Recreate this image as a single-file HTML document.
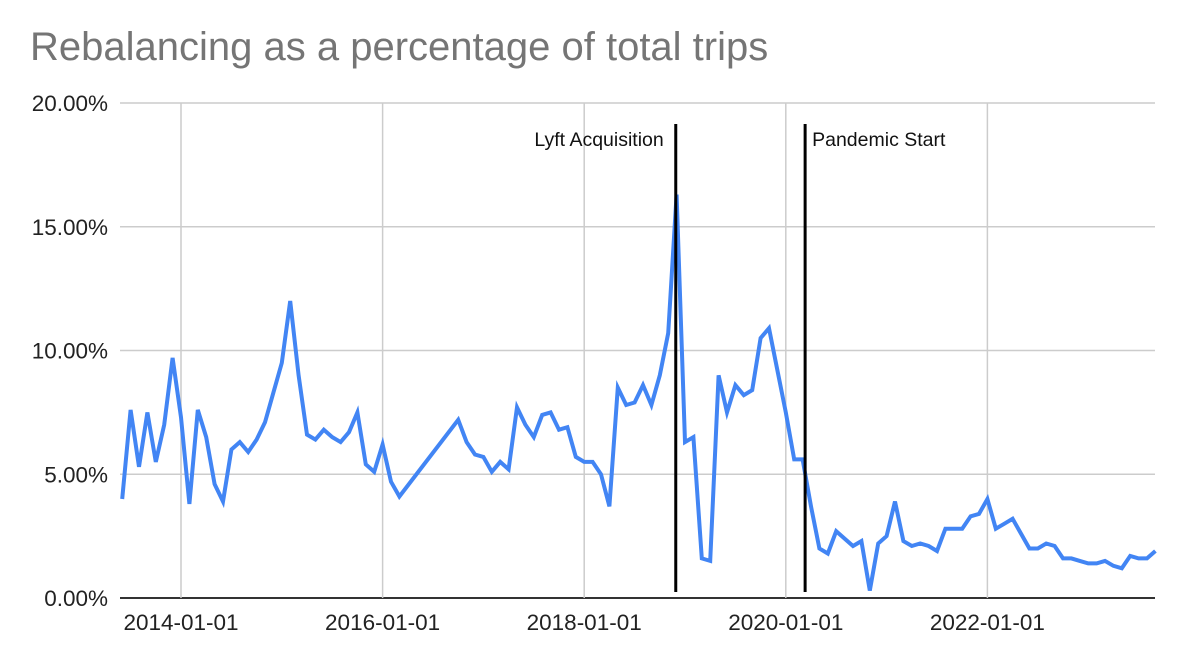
<!DOCTYPE html>
<html><head><meta charset="utf-8"><style>
html,body{margin:0;padding:0;background:#fff;}
svg{display:block;font-family:"Liberation Sans",Arial,sans-serif;}
</style></head><body>
<svg id="chart" width="1180" height="656" viewBox="0 0 1180 656">
<text x="30" y="60" font-size="40" fill="#757575">Rebalancing as a percentage of total trips</text>
<g id="grid"></g><g id="series"></g><g id="annot"></g><g id="labels"></g>
</svg>
<script>
const yTicks = [0, 5, 10, 15, 20];
const yTickLabels = ["0.00%", "5.00%", "10.00%", "15.00%", "20.00%"];
const xTickMonths = [7, 31, 55, 79, 103];
const xTickLabels = ["2014-01-01", "2016-01-01", "2018-01-01", "2020-01-01", "2022-01-01"];
const monthIdx = [0,1,2,3,4,5,6,7,8,9,10,11,12,13,14,15,16,17,18,19,20,21,22,23,24,25,26,27,28,29,30,31,32,33,
40,41,42,43,44,45,46,47,48,49,50,51,52,53,54,55,56,57,58,59,60,61,62,63,64,65,66,67,68,69,70,71,72,73,74,75,76,77,78,79,
80,81,82,83,84,85,86,87,88,89,90,91,92,93,94,95,96,97,98,99,100,101,102,103,104,105,106,107,108,109,110,111,112,113,114,115,116,117,118,119,120,121,122,123];
const values = [4.0,7.6,5.3,7.5,5.5,7.0,9.7,7.3,3.8,7.6,6.5,4.6,3.9,6.0,6.3,5.9,6.4,7.1,8.3,9.5,12.0,9.0,6.6,6.4,6.8,6.5,6.3,6.7,7.5,5.4,5.1,6.2,4.7,4.1,
7.2,6.3,5.8,5.7,5.1,5.5,5.2,7.7,7.0,6.5,7.4,7.5,6.8,6.9,5.7,5.5,5.5,5.0,3.7,8.5,7.8,7.9,8.6,7.8,9.0,10.7,16.3,6.3,6.5,1.6,
1.5,9.0,7.5,8.6,8.2,8.4,10.5,10.9,9.2,7.5,5.6,5.6,3.7,2.0,1.8,2.7,2.4,2.1,2.3,0.3,2.2,2.5,3.9,2.3,2.1,2.2,2.1,1.9,2.8,2.8,
2.8,3.3,3.4,4.0,2.8,3.0,3.2,2.6,2.0,2.0,2.2,2.1,1.6,1.6,1.5,1.4,1.4,1.5,1.3,1.2,1.7,1.6,1.6,1.9];
const eventMonths = [65.9, 81.3];
const eventLabels = ["Lyft Acquisition", "Pandemic Start"];

const NS = "http://www.w3.org/2000/svg";
const x0 = 122.2, pxPerMonth = 8.4, yBase = 598, pxPerPct = 24.75;
const plotLeft = 120, plotRight = 1155;
function xScale(m){ return x0 + m * pxPerMonth; }
function yScale(v){ return yBase - v * pxPerPct; }
function mk(tag, attrs, parent){ const e=document.createElementNS(NS,tag); for(const k in attrs) e.setAttribute(k,attrs[k]); parent.appendChild(e); return e; }
const grid=document.getElementById('grid'), series=document.getElementById('series'), annot=document.getElementById('annot'), labels=document.getElementById('labels');

yTicks.forEach((t,i)=>{
  const y=yScale(t);
  const l=mk('line',{x1:plotLeft,x2:plotRight,y1:y,y2:y,stroke:i===0?'#333':'#cccccc','stroke-width':i===0?2:1.5},grid);
  
  
  const tx=mk('text',{x:108,y:y+8,'text-anchor':'end','font-size':22.5,fill:'#222'},labels);
  tx.textContent=yTickLabels[i];
  
  
});
xTickMonths.forEach((m,i)=>{
  const x=xScale(m);
  const l=mk('line',{x1:x,x2:x,y1:yScale(20),y2:yBase,stroke:'#cccccc','stroke-width':1.5},grid);
  
  
  const tx=mk('text',{x:x,y:630,'text-anchor':'middle','font-size':22.5,fill:'#222'},labels);
  tx.textContent=xTickLabels[i];
  
  
});
const d=monthIdx.map((m,i)=>(i?'L':'M')+xScale(m).toFixed(1)+' '+yScale(values[i]).toFixed(1)).join(' ');
const p=mk('path',{d:d,fill:'none',stroke:'#4285f4','stroke-width':4,'stroke-linejoin':'miter','stroke-miterlimit':4},series);


eventMonths.forEach((m,i)=>{
  const x=xScale(m);
  const l=mk('line',{x1:x,x2:x,y1:124,y2:592,stroke:'#000','stroke-width':3},annot);
  
  
  const tx=mk('text',{x:i===0?x-12:x+7,y:146,'text-anchor':i===0?'end':'start','font-size':19.5,fill:'#111'},annot);
  tx.textContent=eventLabels[i];
  
  
});
</script>
</body></html>
